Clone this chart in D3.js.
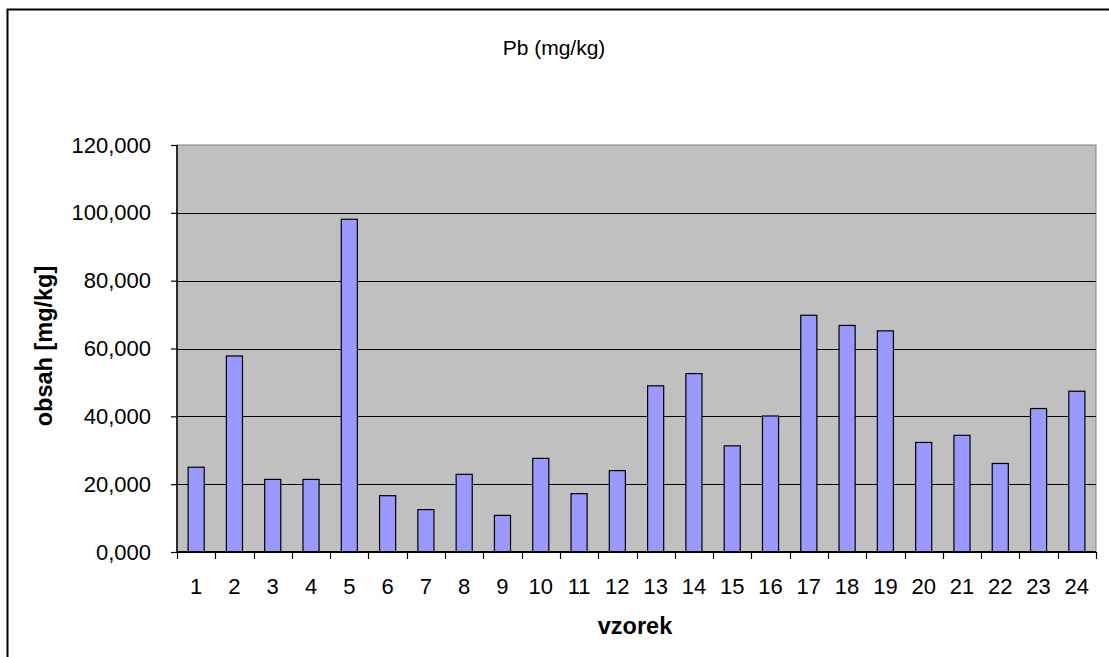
<!DOCTYPE html>
<html>
<head>
<meta charset="utf-8">
<script src="https://cdn.jsdelivr.net/npm/d3@7"></script>
<style>
  body { margin: 0; background: #fff; }
  svg { font-family: Arial, "Liberation Sans", sans-serif; }
</style>
</head>
<body>
<div id="chart"></div>
<script>
// sample numbers and their Pb content
var samples = d3.range(1, 25).map(String);
var lead = [25.0, 57.8, 21.4, 21.4, 98.1, 16.6, 12.5, 22.9, 10.8, 27.6, 17.2, 24.0,
            49.0, 52.6, 31.3, 40.1, 69.8, 66.8, 65.2, 32.3, 34.4, 26.1, 42.3, 47.4];
var yTicks = [0, 20, 40, 60, 80, 100, 120];

var W = 1109, H = 657;
var margin = {top: 145, right: 13, bottom: 105, left: 177};
var width = W - margin.left - margin.right;
var height = H - margin.top - margin.bottom;

var svg = d3.select("#chart").append("svg")
  .attr("width", W).attr("height", H);

// outer chart frame (clipped by the window on the right and bottom)
svg.append("rect")
  .attr("x", 7.5).attr("y", 9.5)
  .attr("width", 1200).attr("height", 800)
  .attr("fill", "none").attr("stroke", "#000").attr("stroke-width", 2);

var x = d3.scaleBand().domain(samples).range([0, width]).paddingInner(0.58).paddingOuter(0.29);
var y = d3.scaleLinear().domain([0, 120]).range([height, 0]);

var g = svg.append("g").attr("transform", "translate(" + margin.left + "," + margin.top + ")");

// plot background
g.append("rect")
  .attr("width", width).attr("height", height)
  .attr("fill", "#c0c0c0").attr("stroke", "#808080");

// gridlines
g.selectAll(".grid").data(yTicks.slice(1, -1)).enter().append("line")
  .attr("x1", 0).attr("x2", width)
  .attr("y1", function(d) { return Math.round(y(d)) + 0.5; })
  .attr("y2", function(d) { return Math.round(y(d)) + 0.5; })
  .attr("stroke", "#000").attr("stroke-width", 1.2);

// bars
g.selectAll(".bar").data(lead).enter().append("rect")
  .attr("x", function(d, i) { return x(samples[i]); })
  .attr("y", function(d) { return y(d); })
  .attr("width", x.bandwidth())
  .attr("height", function(d) { return height - y(d); })
  .attr("fill", "#9999ff").attr("stroke", "#000").attr("stroke-width", 1.2);

var yAxis = g.append("g")
  .call(d3.axisLeft(y).tickValues(yTicks).tickSize(6).tickPadding(20)
    .tickFormat(function(d) { return d + ",000"; }));
yAxis.selectAll("text").attr("font-size", 22).attr("fill", "#000").attr("font-family", "Arial, 'Liberation Sans', sans-serif");
yAxis.selectAll("line").attr("stroke", "#000").attr("stroke-width", 1.2);
yAxis.select(".domain").attr("stroke", "#000").attr("stroke-width", 1.5).attr("d", "M0,0V" + height);

var xAxis = g.append("g").attr("transform", "translate(0," + height + ")");
xAxis.append("line").attr("x1", 0).attr("x2", width).attr("stroke", "#000").attr("stroke-width", 2);
xAxis.selectAll(".tk").data(d3.range(25)).enter().append("line")
  .attr("x1", function(i) { return Math.round(i * width / 24) + 0.5; })
  .attr("x2", function(i) { return Math.round(i * width / 24) + 0.5; })
  .attr("y1", 0).attr("y2", 7)
  .attr("stroke", "#000").attr("stroke-width", 1.2);
xAxis.selectAll(".lbl").data(samples).enter().append("text")
  .attr("x", function(d) { return x(d) + x.bandwidth() / 2; })
  .attr("y", 42)
  .attr("text-anchor", "middle")
  .attr("font-size", 22)
  .text(function(d) { return d; });

// titles
svg.append("text").attr("x", 554).attr("y", 55).attr("text-anchor", "middle")
  .attr("font-size", 21).text("Pb (mg/kg)");
svg.append("text").attr("x", 635).attr("y", 634).attr("text-anchor", "middle")
  .attr("font-size", 23.5).attr("font-weight", "bold").text("vzorek");
svg.append("text").attr("transform", "translate(52,346) rotate(-90)").attr("text-anchor", "middle")
  .attr("font-size", 23.5).attr("font-weight", "bold").text("obsah [mg/kg]");
</script>
</body>
</html>
